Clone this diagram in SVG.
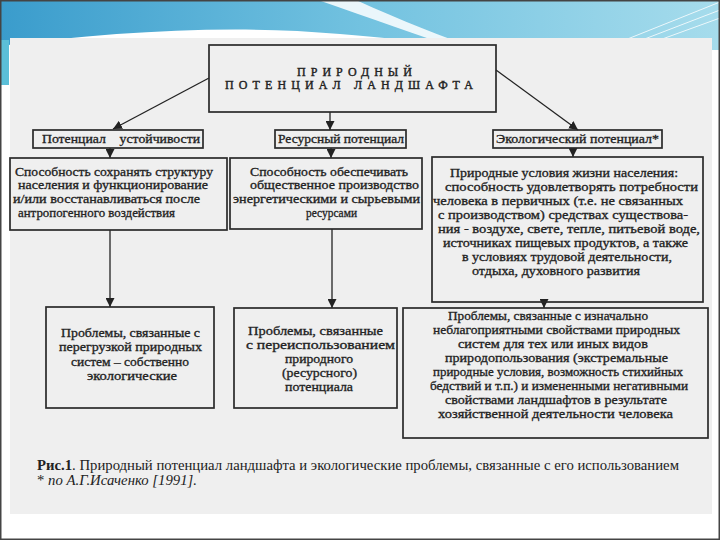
<svg xmlns="http://www.w3.org/2000/svg" width="720" height="540" viewBox="0 0 720 540">
<defs>
<linearGradient id="hdr" x1="0" y1="0" x2="1" y2="0">
<stop offset="0" stop-color="#3a9ccc"/>
<stop offset="0.5" stop-color="#72c2e0"/>
<stop offset="1" stop-color="#a6dcec"/>
</linearGradient>
<marker id="ah" viewBox="0 0 10 10" refX="10" refY="5" markerWidth="9" markerHeight="9" markerUnits="userSpaceOnUse" orient="auto">
<path d="M0,0 L10,5 L0,10 Z" fill="#222"/>
</marker>
<style>
.box{fill:none;stroke:#2a2a2a;stroke-width:1.7}
text{font-family:'Liberation Serif','DejaVu Serif','Noto Serif',serif}
.t{font-size:12px;fill:#222;stroke:#222;stroke-width:0.3}
.s{font-size:12px}
.cap{font-size:14px;fill:#222}
.top{font-size:12px;fill:#222;stroke:#222;stroke-width:0.4}
.c{stroke:#222;stroke-width:1.3;fill:none}
</style>
</defs>
<rect x="0" y="0" width="720" height="540" fill="#ffffff"/>
<rect x="0" y="0" width="720" height="50" fill="url(#hdr)"/>
<path d="M0,48 L0,46 C110,32 230,24 340,34 C420,41 470,46 500,50 L0,50 Z" fill="#ffffff"/>
<path d="M318,0 L356,0 C400,20 445,38 482,50 L462,50 C420,36 370,18 318,0 Z" fill="#ffffff" opacity="0.85"/>
<path d="M600,50 L720,2 M616,50 L720,10 M632,50 L720,18" stroke="#ffffff" stroke-width="1" opacity="0.8"/>
<rect x="0" y="40" width="9" height="45" fill="#5bbfd8"/>
<rect x="10" y="38" width="702" height="476" fill="#efefef"/>
<rect x="0.75" y="0.75" width="718.5" height="538.5" fill="none" stroke="#444" stroke-width="1.5"/>

<g id="connectors">
<line class="c" x1="209" y1="78" x2="113" y2="129" marker-end="url(#ah)"/>
<line class="c" x1="330" y1="112" x2="330" y2="130" marker-end="url(#ah)"/>
<line class="c" x1="496" y1="70" x2="578" y2="130" marker-end="url(#ah)"/>
<line class="c" x1="110" y1="148" x2="110" y2="158" marker-end="url(#ah)"/>
<line class="c" x1="331" y1="148" x2="331" y2="158" marker-end="url(#ah)"/>
<line class="c" x1="573" y1="148" x2="573" y2="157" marker-end="url(#ah)"/>
<line class="c" x1="110" y1="230" x2="110" y2="307" marker-end="url(#ah)"/>
<line class="c" x1="332" y1="229" x2="332" y2="308" marker-end="url(#ah)"/>
<line class="c" x1="544" y1="302" x2="544" y2="308" marker-end="url(#ah)"/>
</g>

<g id="root">
<rect class="box" x="209" y="45" width="287" height="67"/>
<text class="top" x="297" y="76" textLength="115" lengthAdjust="spacing">ПРИРОДНЫЙ</text>
<text class="top" x="225" y="89" textLength="248" lengthAdjust="spacing">ПОТЕНЦИАЛ ЛАНДШАФТА</text>
</g>

<g id="label-stability">
<rect class="box" x="33" y="130" width="170" height="18"/>
<text class="t s" x="42" y="143" textLength="158" lengthAdjust="spacingAndGlyphs" xml:space="preserve">Потенциал    устойчивости</text>
</g>
<g id="label-resource">
<rect class="box" x="275" y="130" width="131" height="18"/>
<text class="t s" x="278" y="143" textLength="126" lengthAdjust="spacingAndGlyphs">Ресурсный потенциал</text>
</g>
<g id="label-ecology">
<rect class="box" x="493" y="130" width="169" height="18"/>
<text class="t s" x="496" y="143" textLength="163" lengthAdjust="spacingAndGlyphs">Экологический потенциал*</text>
</g>

<g id="box-a">
<rect class="box" x="10" y="158" width="217" height="72"/>
<text class="t" x="15" y="176" textLength="198" lengthAdjust="spacingAndGlyphs">Способность сохранять структуру</text>
<text class="t" x="18" y="189" textLength="190" lengthAdjust="spacingAndGlyphs">населения  и функционирование</text>
<text class="t" x="13" y="203" textLength="187" lengthAdjust="spacingAndGlyphs">и/или восстанавливаться  после</text>
<text class="t" x="18" y="217" textLength="157" lengthAdjust="spacingAndGlyphs">антропогенного воздействия</text>
</g>

<g id="box-b">
<rect class="box" x="230" y="158" width="192" height="71"/>
<text class="t" x="250" y="176" textLength="158" lengthAdjust="spacingAndGlyphs">Способность обеспечивать</text>
<text class="t" x="250" y="189" textLength="169" lengthAdjust="spacingAndGlyphs">общественное производство</text>
<text class="t" x="233" y="203" textLength="187" lengthAdjust="spacingAndGlyphs">энергетическими и сырьевыми</text>
<text class="t" x="306" y="217" textLength="51" lengthAdjust="spacingAndGlyphs">ресурсами</text>
</g>

<g id="box-c">
<rect class="box" x="432" y="157" width="271" height="145"/>
<text class="t" x="450" y="177" textLength="228" lengthAdjust="spacingAndGlyphs">Природные условия жизни населения:</text>
<text class="t" x="445" y="191" textLength="253" lengthAdjust="spacingAndGlyphs">способность удовлетворять потребности</text>
<text class="t" x="433" y="205" textLength="250" lengthAdjust="spacingAndGlyphs">человека в первичных (т.е. не связанных</text>
<text class="t" x="438" y="219" textLength="250" lengthAdjust="spacingAndGlyphs">с производством) средствах существова-</text>
<text class="t" x="438" y="233" textLength="262" lengthAdjust="spacingAndGlyphs">ния - воздухе, свете, тепле, питьевой воде,</text>
<text class="t" x="443" y="247" textLength="245" lengthAdjust="spacingAndGlyphs">источниках пищевых продуктов, а также</text>
<text class="t" x="462" y="261" textLength="210" lengthAdjust="spacingAndGlyphs">в условиях трудовой деятельности,</text>
<text class="t" x="472" y="275" textLength="168" lengthAdjust="spacingAndGlyphs">отдыха, духовного развития</text>
</g>

<g id="box-d">
<rect class="box" x="46" y="307" width="168" height="101"/>
<text class="t" x="61" y="337" textLength="139" lengthAdjust="spacingAndGlyphs">Проблемы, связанные с</text>
<text class="t" x="59" y="351" textLength="143" lengthAdjust="spacingAndGlyphs">перегрузкой природных</text>
<text class="t" x="71" y="366" textLength="118" lengthAdjust="spacingAndGlyphs">систем – собственно</text>
<text class="t" x="87" y="380" textLength="90" lengthAdjust="spacingAndGlyphs">экологические</text>
</g>

<g id="box-e">
<rect class="box" x="234" y="308" width="163" height="100"/>
<text class="t" x="248" y="335" textLength="135" lengthAdjust="spacingAndGlyphs">Проблемы, связанные</text>
<text class="t" x="246" y="349" textLength="149" lengthAdjust="spacingAndGlyphs">с переиспользованием</text>
<text class="t" x="285" y="363" textLength="68" lengthAdjust="spacingAndGlyphs">природного</text>
<text class="t" x="282" y="377" textLength="75" lengthAdjust="spacingAndGlyphs">(ресурсного)</text>
<text class="t" x="285" y="391" textLength="68" lengthAdjust="spacingAndGlyphs">потенциала</text>
</g>

<g id="box-f">
<rect class="box" x="403" y="308" width="305" height="130"/>
<text class="t" x="448" y="320" textLength="200" lengthAdjust="spacingAndGlyphs">Проблемы, связанные с изначально</text>
<text class="t" x="433" y="334" textLength="247" lengthAdjust="spacingAndGlyphs">неблагоприятными свойствами природных</text>
<text class="t" x="458" y="348" textLength="190" lengthAdjust="spacingAndGlyphs">систем для тех или иных видов</text>
<text class="t" x="445" y="362" textLength="223" lengthAdjust="spacingAndGlyphs">природопользования (экстремальные</text>
<text class="t" x="433" y="376" textLength="250" lengthAdjust="spacingAndGlyphs">природные условия, возможность стихийных</text>
<text class="t" x="430" y="390" textLength="258" lengthAdjust="spacingAndGlyphs">бедствий и т.п.) и измененными  негативными</text>
<text class="t" x="445" y="404" textLength="222" lengthAdjust="spacingAndGlyphs">свойствами ландшафтов в результате</text>
<text class="t" x="438" y="418" textLength="235" lengthAdjust="spacingAndGlyphs">хозяйственной деятельности человека</text>
</g>

<g id="caption">
<text class="cap" x="37" y="470" textLength="642" lengthAdjust="spacingAndGlyphs"><tspan font-weight="bold">Рис.1</tspan>. Природный потенциал ландшафта и экологические проблемы, связанные с его использованием</text>
<text class="cap" x="37" y="485" textLength="160" lengthAdjust="spacingAndGlyphs">* <tspan font-style="italic">по А.Г.Исаченко  [1991].</tspan></text>
</g>
</svg>
